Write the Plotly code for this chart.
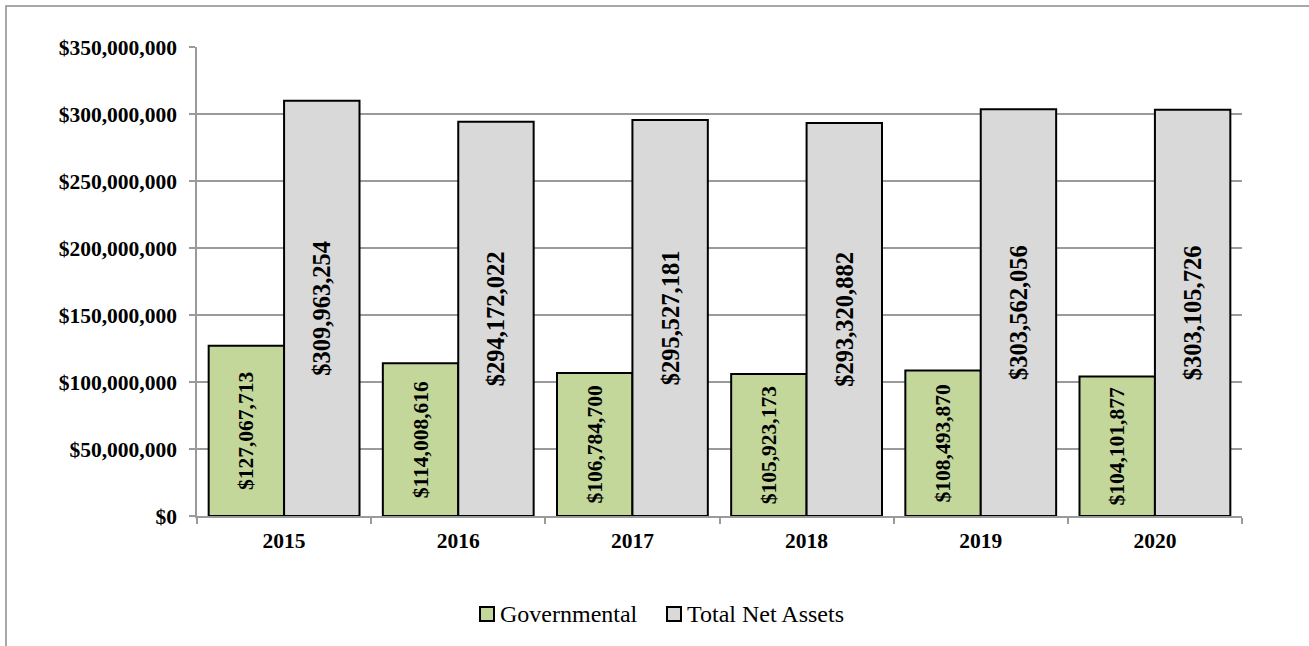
import plotly.graph_objects as go

# ---- data ----
years = ["2015", "2016", "2017", "2018", "2019", "2020"]
governmental = [127067713, 114008616, 106784700, 105923173, 108493870, 104101877]
total_net_assets = [309963254, 294172022, 295527181, 293320882, 303562056, 303105726]
y_ticks = [0, 50000000, 100000000, 150000000, 200000000, 250000000, 300000000, 350000000]

# ---- layout geometry (pixels) ----
W, H = 1309, 646
ML, MR, MT, MB = 197, 67, 47, 130
PW, PH = W - ML - MR, H - MT - MB

def px(x):
    return (x - ML) / PW

def py(y):
    return (H - MB - y) / PH

SERIF = "Liberation Serif"
GREEN = "#c4d79b"
GREY = "#d9d9d9"
AXIS_GREY = "#9a9a9a"

def money(v):
    return f"${v:,}"

def bar_font(size):
    return dict(family=SERIF, size=size, color="black", weight="bold")

fig = go.Figure()
fig.add_trace(go.Bar(
    name="Governmental", x=years, y=governmental,
    marker=dict(color=GREEN, line=dict(color="black", width=2)),
    text=[f"<b>{money(v)}</b>" for v in governmental],
    textposition="inside", insidetextanchor="middle", textangle=-90,
    textfont=bar_font(21.5), insidetextfont=bar_font(21.5),
    constraintext="none",
    hoverinfo="skip",
))
fig.add_trace(go.Bar(
    name="Total Net Assets", x=years, y=total_net_assets,
    marker=dict(color=GREY, line=dict(color="black", width=2)),
    text=[f"<b>{money(v)}</b>" for v in total_net_assets],
    textposition="inside", insidetextanchor="middle", textangle=-90,
    textfont=bar_font(24.5), insidetextfont=bar_font(24.5),
    constraintext="none",
    hoverinfo="skip",
))

shapes = [
    # outer chart frame (runs off the right and bottom edges)
    dict(type="rect", xref="paper", yref="paper",
         x0=px(6), x1=px(W + 10), y0=py(H + 10), y1=py(6),
         line=dict(color="#8c8c8c", width=1.5), fillcolor="rgba(0,0,0,0)", layer="below"),
]

# legend drawn as swatches + labels
legend_items = [("Governmental", GREEN, 480), ("Total Net Assets", GREY, 667)]
annotations = []
for label, color, x0 in legend_items:
    shapes.append(dict(type="rect", xref="paper", yref="paper",
                       x0=px(x0), x1=px(x0 + 14), y0=py(621), y1=py(607),
                       line=dict(color="black", width=2), fillcolor=color))
    annotations.append(dict(xref="paper", yref="paper", x=px(x0 + 18), y=py(614),
                            xanchor="left", yanchor="middle", showarrow=False,
                            text=label, font=dict(family=SERIF, size=24, color="black")))

fig.update_layout(
    width=W, height=H,
    margin=dict(l=ML, r=MR, t=MT, b=MB, pad=0),
    paper_bgcolor="white", plot_bgcolor="white",
    barmode="group", bargap=0.134, bargroupgap=0,
    showlegend=False,
    shapes=shapes, annotations=annotations,
    xaxis=dict(
        type="category", tickson="boundaries",
        showgrid=False, showline=True, linecolor=AXIS_GREY, linewidth=1.5,
        ticks="outside", ticklen=6, tickcolor=AXIS_GREY, tickwidth=1.5,
        tickfont=dict(family=SERIF, size=21.5, color="black", weight="bold"),
        ticklabelstandoff=4,
    ),
    yaxis=dict(
        range=[0, 350000000], tickvals=y_ticks,
        ticktext=[money(v) for v in y_ticks],
        showgrid=True, gridcolor=AXIS_GREY, gridwidth=1.5,
        showline=True, linecolor=AXIS_GREY, linewidth=1.5,
        ticks="outside", ticklen=6, tickcolor=AXIS_GREY, tickwidth=1.5,
        tickfont=dict(family=SERIF, size=21.5, color="black", weight="bold"),
        ticklabelstandoff=8, zeroline=False,
    ),
)

fig.write_html("out.html")
